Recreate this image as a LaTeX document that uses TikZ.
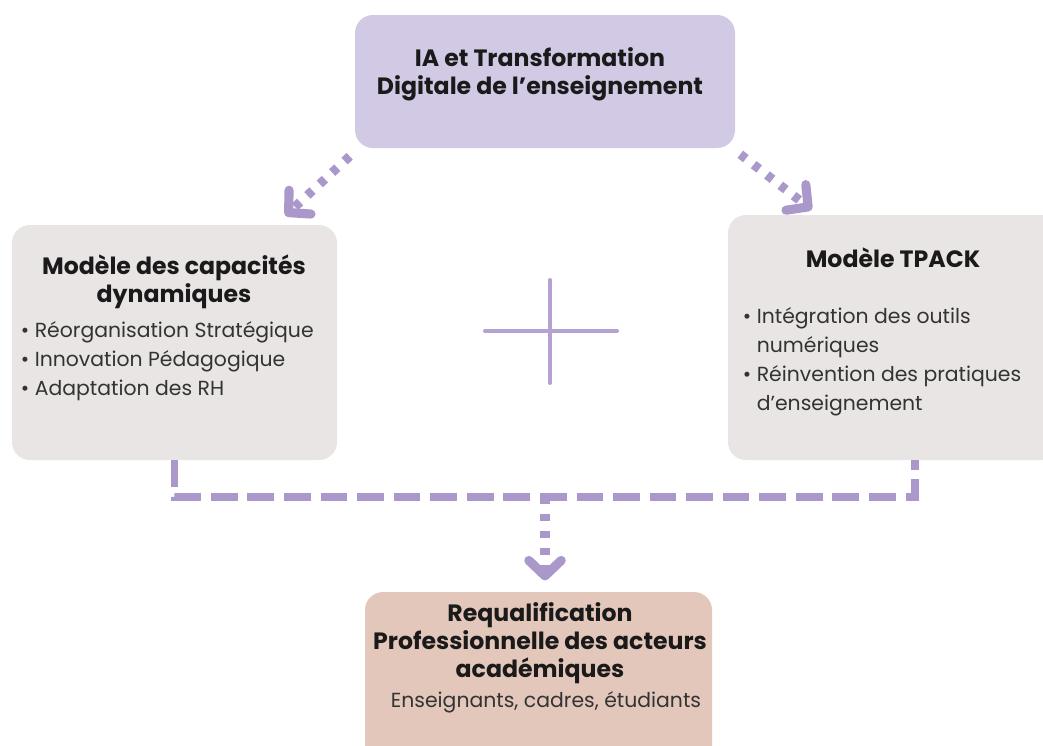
\documentclass[tikz,border=0pt]{standalone}
\usepackage{fontspec}
\setmainfont{Poppins}
\usetikzlibrary{positioning,calc,fit,arrows.meta}

\definecolor{lilacfill}{HTML}{D2C9E4}
\definecolor{greyfill}{HTML}{E8E5E4}
\definecolor{rosefill}{HTML}{E3C7BB}
\definecolor{arrowlilac}{HTML}{AB98CB}
\definecolor{pluslilac}{HTML}{B5A2D2}
\definecolor{headtext}{HTML}{1A1A1A}
\definecolor{bodytext}{HTML}{333333}

\begin{document}
\begin{tikzpicture}[x=0.025cm, y=-0.025cm,
    box/.style={rounded corners=0.45cm, inner sep=0pt},
    head/.style={align=center, text=headtext, font=\bfseries\fontsize{16.8}{20}\selectfont},
    body/.style={align=left, anchor=west, text=bodytext, font=\fontsize{14.5}{20.5}\selectfont},
    dotline/.style={draw=arrowlilac, line width=6.5pt, dash pattern=on 5pt off 7pt},
    dashline/.style={draw=arrowlilac, line width=5.5pt, dash pattern=on 19pt off 7pt},
    tip/.style={-{Straight Barb[length=11pt, width=23pt, line width=6.5pt, round]}}]
    \useasboundingbox (0,0) rectangle (1043,745);
    \clip (0,0) rectangle (1043,745);

    % Boxes
    \node[box, fill=lilacfill, fit={(355,15) (735,148)}] (top) {};
    \node[box, fill=greyfill, fit={(12,225) (337,460)}] (left) {};
    \node[box, fill=greyfill, fit={(728,215) (1060,460)}] (right) {};
    \node[box, fill=rosefill, fit={(365,592) (712,770)}] (bottom) {};

    % Top box text
    \node[head] (toptitle) at (540,74) {IA et Transformation\\Digitale de l’enseignement};

    % Left box text
    \node[head] (lefttitle) at (174,282) {Modèle des capacités\\dynamiques};
    \node[body] (leftlist) at (16,361) {\textbullet\ Réorganisation Stratégique\\
        \textbullet\ Innovation Pédagogique\\
        \textbullet\ Adaptation des RH};

    % Right box text
    \node[head] (righttitle) at (893,258) {Modèle TPACK};
    \node[body] (rightlist) at (738,362) {\textbullet\ Intégration des outils\\
        \phantom{\textbullet\ }numériques\\
        \textbullet\ Réinvention des pratiques\\
        \phantom{\textbullet\ }d’enseignement};

    % Bottom box text
    \node[head] (bottomtitle) at (540,643) {Requalification\\Professionnelle des acteurs\\académiques};
    \node[body, anchor=center] (bottomnote) at (546,702) {Enseignants, cadres, étudiants};

    % Plus sign
    \coordinate (plusc) at (550,331);
    \draw[pluslilac, line width=2.8pt, line cap=round] ($(plusc)+(-65,0)$) -- ($(plusc)+(67,0)$);
    \draw[pluslilac, line width=2.8pt, line cap=round] ($(plusc)+(0,-51)$) -- ($(plusc)+(0,52)$);

    % Dotted arrows from the top box
    \draw[dotline, tip] ($(top.south west)+(-5,8)$) -- ($(left.north east)+(-52,-9)$);
    \draw[dotline, tip] ($(top.south east)+(5,6)$) -- ($(right.north west)+(84,-5)$);

    % Dashed join of the two models
    \coordinate (join) at (545,497);
    \coordinate (rightfoot) at ($(right.south west)+(187,0)$);
    \draw[dashline] (left.south) |- (join) -| (rightfoot);

    % Dotted arrow to the bottom box
    \draw[dotline, tip, shorten >=8] (join) -- (join |- bottom.north);
\end{tikzpicture}
\end{document}
